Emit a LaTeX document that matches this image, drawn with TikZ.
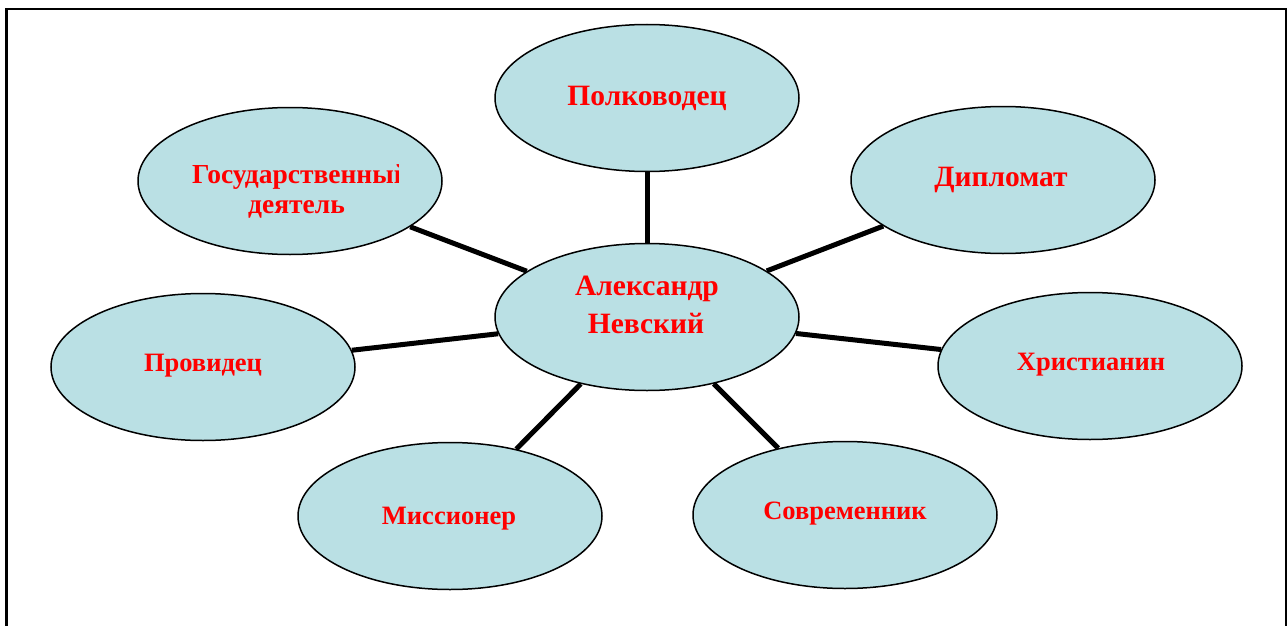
\documentclass[tikz,border=0pt]{standalone}
\usepackage{fontspec}
\setmainfont{Liberation Serif}
\usetikzlibrary{shapes.geometric}
\definecolor{bubble}{RGB}{186,224,228}
\definecolor{txtred}{RGB}{255,0,0}
\tikzset{
  bub/.style={ellipse, draw=black, line width=1.5pt, fill=bubble,
    minimum width=304pt, minimum height=147pt, inner sep=0pt},
  lab/.style={anchor=base, inner sep=0pt, text=txtred,
    font=\fontsize{29.5}{32}\selectfont\bfseries},
  labm/.style={lab, font=\fontsize{26.5}{30}\selectfont\bfseries},
  labs/.style={lab, font=\fontsize{27.5}{30}\selectfont\bfseries},
  conn/.style={line width=5pt, black}
}
\begin{document}
\begin{tikzpicture}[x=1pt,y=-1pt]
\useasboundingbox (0,0) rectangle (1288,626);
\clip (0,0) rectangle (1288,626);
\draw[line width=2.5pt] (6.5,9) rectangle (1286,660);
% bubbles
\node[bub] (c) at (647,317) {};
\node[bub] (p) at (647,98) {};
\node[bub] (g) at (290,181) {};
\node[bub] (d) at (1003,180) {};
\node[bub] (v) at (203,367) {};
\node[bub] (h) at (1090,366) {};
\node[bub] (m) at (450,516) {};
\node[bub] (s) at (845,515) {};
% connectors
\draw[conn] (c) -- (p);
\draw[conn] (c) -- (g);
\draw[conn] (c) -- (d);
\draw[conn] (c) -- (v);
\draw[conn] (c) -- (h);
\draw[conn] (c) -- (m);
\draw[conn] (c) -- (s);
% labels
\node[lab] (tc1) at (647,295) {Александр};
\node[lab] (tc2) at (646,333) {Невский};
\node[lab] (tp) at (647,105) {Полководец};
\begin{scope}
\clip (100,100) rectangle (398.5,260);
\node[labs, anchor=base west] (tg1) at (192,183.3) {Государственный};
\end{scope}
\node[labs] (tg2) at (296.5,213) {деятель};
\node[lab] (td) at (1001,186) {Дипломат};
\node[labm] (tv) at (203,371) {Провидец};
\node[labm] (th) at (1091,370) {Христианин};
\node[labm] (tm) at (449,524) {Миссионер};
\node[labm] (ts) at (845,519) {Современник};
\end{tikzpicture}
\end{document}
